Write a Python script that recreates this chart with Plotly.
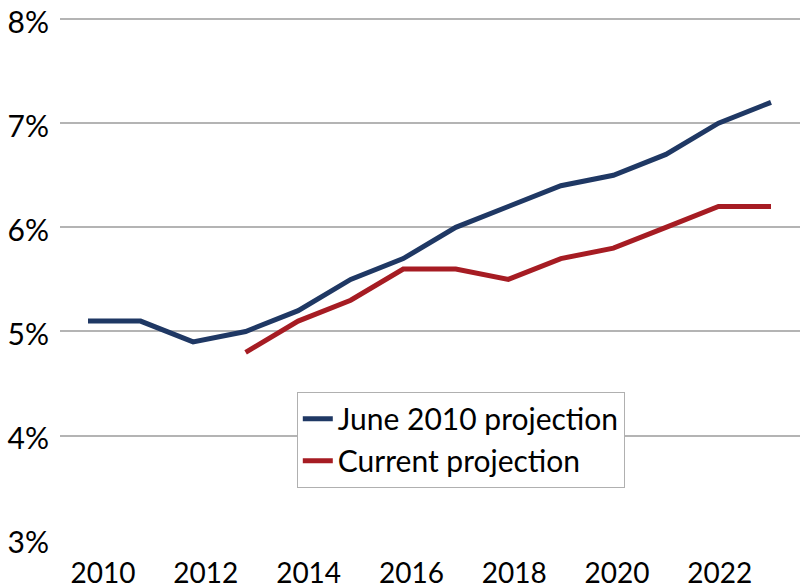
import plotly.graph_objects as go

years = list(range(2010, 2024))
june_2010 = [5.1, 5.1, 4.9, 5.0, 5.2, 5.5, 5.7, 6.0, 6.2, 6.4, 6.5, 6.7, 7.0, 7.2]
current_years = list(range(2013, 2024))
current = [4.8, 5.1, 5.3, 5.6, 5.6, 5.5, 5.7, 5.8, 6.0, 6.2, 6.2]
x_ticks = [2010, 2012, 2014, 2016, 2018, 2020, 2022]
y_ticks = [3, 4, 5, 6, 7, 8]

FONT = "Lato"

fig = go.Figure()
fig.add_trace(go.Scatter(x=years, y=june_2010, mode="lines", name="June 2010 projection",
                         line=dict(color="#1f3864", width=5)))
fig.add_trace(go.Scatter(x=current_years, y=current, mode="lines", name="Current projection",
                         line=dict(color="#a61c23", width=5)))
# invisible carrier trace so the label axis is drawn
fig.add_trace(go.Scatter(x=years, y=june_2010, xaxis="x2", mode="lines", opacity=0,
                         showlegend=False, hoverinfo="skip", line=dict(width=0)))

fig.update_layout(
    width=800, height=588,
    margin=dict(l=60, r=0, t=18, b=48),
    paper_bgcolor="white", plot_bgcolor="white",
    font=dict(family=FONT, size=29, color="black"),
    showlegend=True,
    legend=dict(x=0.32, y=0.284, xanchor="left", yanchor="top",
                bordercolor="#b0b0b0", borderwidth=1, bgcolor="white",
                font=dict(size=30), itemwidth=30, tracegroupgap=0),
    xaxis=dict(range=[2009.467, 2023.552], showticklabels=False,
               showgrid=False, zeroline=False, showline=False, ticks="", automargin=False),
    xaxis2=dict(range=[2009.163, 2023.560], overlaying="x", side="bottom", anchor="y",
                tickvals=x_ticks, ticktext=[str(v) for v in x_ticks],
                showgrid=False, zeroline=False, showline=False, ticks="",
                ticklabelstandoff=14, automargin=False, tickfont=dict(size=28)),
    yaxis=dict(range=[2.998, 8.01], tickvals=y_ticks, ticktext=[f"{v}%" for v in y_ticks],
               showgrid=True, gridcolor="#b4b4b4", gridwidth=1.5, zeroline=False,
               showline=False, ticks="", ticklabelstandoff=10, automargin=False,
               ticklabelshift=3, ticklabeloverflow="allow", tickfont=dict(size=30)),
)

fig.write_html("out.html", config={"displayModeBar": False},
               post_script="document.body.style.margin='0';")
